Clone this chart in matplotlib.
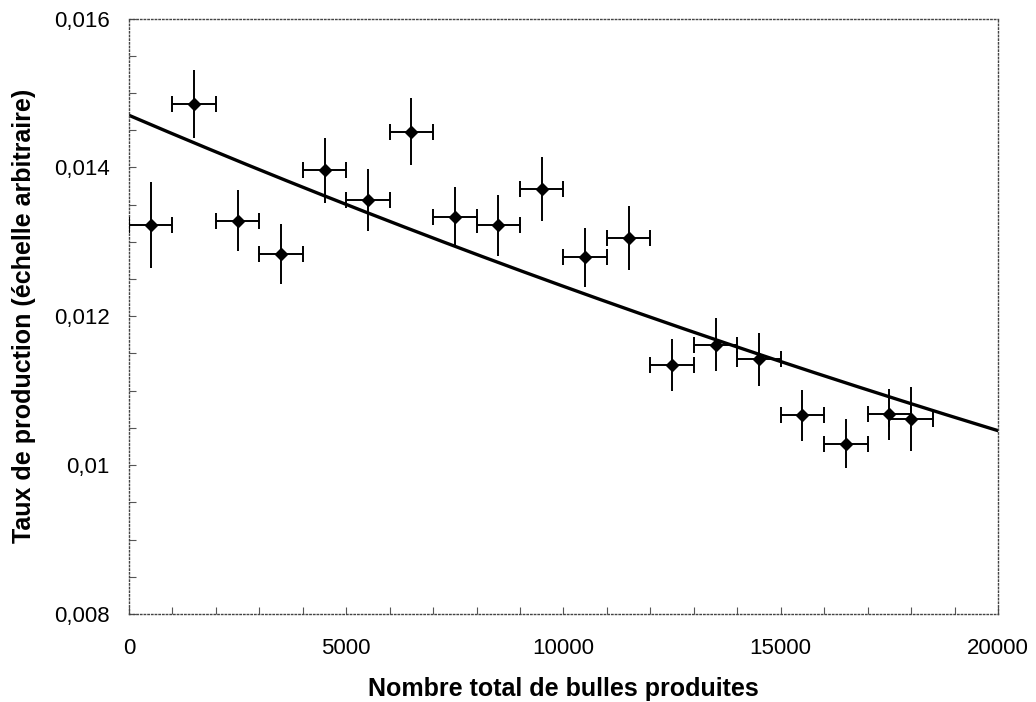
import matplotlib.pyplot as plt, numpy as np
from matplotlib.ticker import MultipleLocator, FuncFormatter

plt.rcParams['font.family'] = ['Liberation Sans', 'DejaVu Sans']

# mesures
n_bulles = [500, 1500, 2500, 3500, 4500, 5500, 6500, 7500, 8500, 9500,
            10500, 11500, 12500, 13500, 14500, 15500, 16500, 17500, 18000]
taux = [0.01323, 0.01485, 0.01328, 0.01284, 0.01396, 0.01356, 0.01448, 0.01334,
        0.01322, 0.01371, 0.01279, 0.01305, 0.01135, 0.01162, 0.01142, 0.01067,
        0.01029, 0.01068, 0.01062]
err_taux = [0.00058, 0.00046, 0.00041, 0.00040, 0.00044, 0.00042, 0.00045, 0.00040,
            0.00041, 0.00043, 0.00040, 0.00043, 0.00035, 0.00036, 0.00036, 0.00034,
            0.00033, 0.00034, 0.00043]
err_bulles = [500] * len(n_bulles)

# ajustement exponentiel y = A exp(-k x)
A_fit, k_fit = 0.0147, 1.70e-5

fig = plt.figure(figsize=(10.36, 7.02), dpi=100)
ax = fig.add_axes([0.1245, 0.1254, 0.8388, 0.8482])

xf = np.linspace(0, 20000, 200)
ax.plot(xf, A_fit * np.exp(-k_fit * xf), color='black', lw=2.4, zorder=2)

ax.errorbar(n_bulles, taux, xerr=err_bulles, fmt='none', ecolor='black',
            elinewidth=1.4, capsize=5.5, capthick=1.4, zorder=3)
ax.errorbar(n_bulles, taux, yerr=err_taux, fmt='none', ecolor='black',
            elinewidth=1.4, capsize=0, zorder=3)
ax.plot(n_bulles, taux, 'D', color='black', ms=6.5, zorder=4)

ax.set_xlim(0, 20000); ax.set_ylim(0.008, 0.016)
ax.xaxis.set_major_locator(MultipleLocator(5000)); ax.xaxis.set_minor_locator(MultipleLocator(1000))
ax.yaxis.set_major_locator(MultipleLocator(0.002)); ax.yaxis.set_minor_locator(MultipleLocator(0.0005))
ax.yaxis.set_major_formatter(FuncFormatter(lambda v, p: f"{v:g}".replace('.', ',')))
ax.tick_params(which='both', direction='in', length=5, width=0.8, color='#555555',
               labelsize=16)
ax.tick_params(axis='x', which='both', pad=17)
ax.tick_params(axis='y', which='both', pad=14)
for s in ax.spines.values():
    s.set_linestyle(':'); s.set_color('#444444'); s.set_linewidth(1.0)

ax.set_xlabel("Nombre total de bulles produites", fontsize=18, fontweight='bold', labelpad=13)
ax.set_ylabel("Taux de production (échelle arbitraire)", fontsize=18, fontweight='bold', labelpad=13)

plt.savefig("out.png", dpi=100)
plt.close()
